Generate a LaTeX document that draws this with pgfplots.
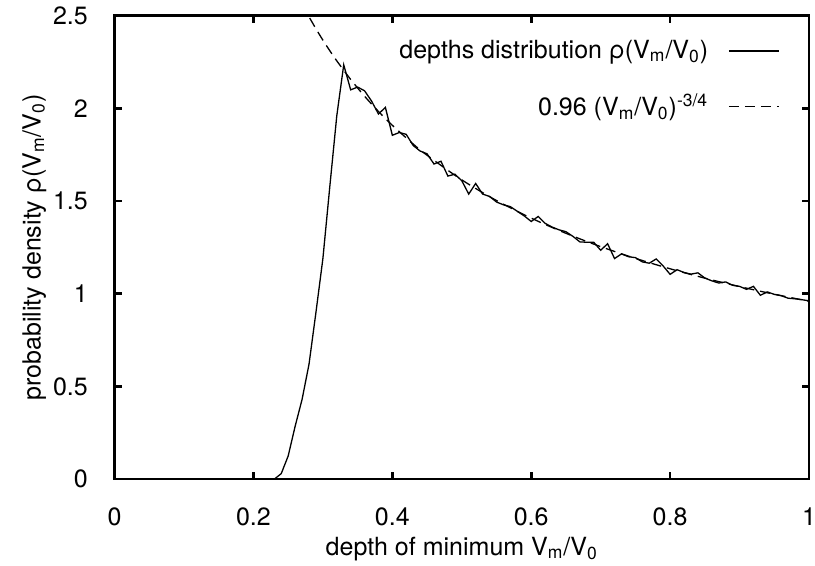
\documentclass[border=0pt]{standalone}
\usepackage{fontspec}
\setmainfont{TeX Gyre Heros}
\usepackage{pgfplots}
\pgfplotsset{compat=1.18}
\pgfplotstableread{
x y
0.22 0
0.23 0
0.24 0.03
0.25 0.125
0.26 0.285
0.27 0.43
0.28 0.62
0.29 0.90
0.30 1.19
0.31 1.58
0.32 1.96
0.33 2.235
0.34 2.10
0.35 2.115
0.36 2.095
0.37 2.04
0.38 1.97
0.39 2.005
0.40 1.855
0.41 1.87
0.42 1.86
0.43 1.80
0.44 1.77
0.45 1.755
0.46 1.70
0.47 1.715
0.48 1.635
0.49 1.645
0.50 1.61
0.51 1.538
0.52 1.595
0.53 1.538
0.54 1.525
0.55 1.495
0.56 1.48
0.57 1.47
0.58 1.445
0.59 1.42
0.60 1.39
0.61 1.417
0.62 1.38
0.63 1.36
0.64 1.345
0.65 1.335
0.66 1.31
0.67 1.28
0.68 1.278
0.69 1.278
0.70 1.235
0.71 1.27
0.72 1.19
0.73 1.215
0.74 1.20
0.75 1.195
0.76 1.172
0.77 1.165
0.78 1.188
0.79 1.15
0.80 1.105
0.81 1.13
0.82 1.115
0.83 1.106
0.84 1.113
0.85 1.085
0.86 1.07
0.87 1.058
0.88 1.064
0.89 1.046
0.90 1.04
0.91 1.024
0.92 1.04
0.93 0.992
0.94 1.01
0.95 0.997
0.96 0.99
0.97 0.976
0.98 0.973
0.99 0.968
1.00 0.962
}\depths
\pgfplotstableread{
x y
0.27 2.563
0.278 2.5075
0.29 2.4293
0.30 2.3682
0.31 2.3107
0.32 2.2564
0.34 2.1561
0.36 2.0657
0.38 1.9836
0.40 1.9089
0.43 1.8078
0.45 1.7473
0.50 1.6145
0.55 1.5031
0.60 1.4082
0.65 1.3262
0.70 1.2544
0.75 1.1912
0.80 1.1349
0.85 1.0844
0.90 1.0389
0.95 0.9976
1.00 0.96
}\fit
\begin{document}
\fontsize{12.5}{15}\selectfont
\begin{tikzpicture}
\begin{axis}[
  scale only axis, width=347pt, height=231.6pt,
  xmin=0, xmax=1, ymin=0, ymax=2.5,
  xtick={0,0.2,0.4,0.6,0.8,1},
  ytick={0,0.5,1,1.5,2,2.5},
  tick align=inside, major tick length=3.5pt,
  axis line style={line width=1.3pt},
  every tick/.style={black, line width=1.3pt},
  /pgf/number format/assume math mode=true,
  xticklabel style={yshift=-10pt},
  yticklabel style={xshift=-9pt},
  xlabel={depth of minimum V\textsubscript{m}/V\textsubscript{0}},
  xlabel style={at={([yshift=-38pt]rel axis cs:0.5,0)}, anchor=base},
  ylabel={probability density ρ(V\textsubscript{m}/V\textsubscript{0})},
  ylabel style={at={([xshift=-37pt]rel axis cs:0,0.5)}, anchor=base, rotate=0},
  legend style={draw=none, fill=none, at={(1,1)}, anchor=north east,
    xshift=-14.5pt, yshift=-12pt, inner sep=0pt, nodes={inner sep=0pt},
    row sep=16pt, column sep=10pt},
  legend cell align=right, legend plot pos=right,
  legend image code/.code={\draw[#1] (0pt,0pt) -- (25pt,0pt);},
]
\addplot[black, line width=0.65pt] table {\depths};
\addlegendentry{depths distribution ρ(V\textsubscript{m}/V\textsubscript{0})}
\addplot[black, line width=0.65pt, dash pattern=on 5pt off 3pt, smooth] table {\fit};
\addlegendentry{0.96 (V\textsubscript{m}/V\textsubscript{0})\textsuperscript{-3/4}}
\coordinate (sw) at (rel axis cs:0,0);
\coordinate (ne) at (rel axis cs:1,1);
\end{axis}
\pgfresetboundingbox
\path[use as bounding box] ([shift={(-57.25pt,-43pt)}]sw) rectangle ([shift={(3pt,7.85pt)}]ne);
\end{tikzpicture}
\end{document}
